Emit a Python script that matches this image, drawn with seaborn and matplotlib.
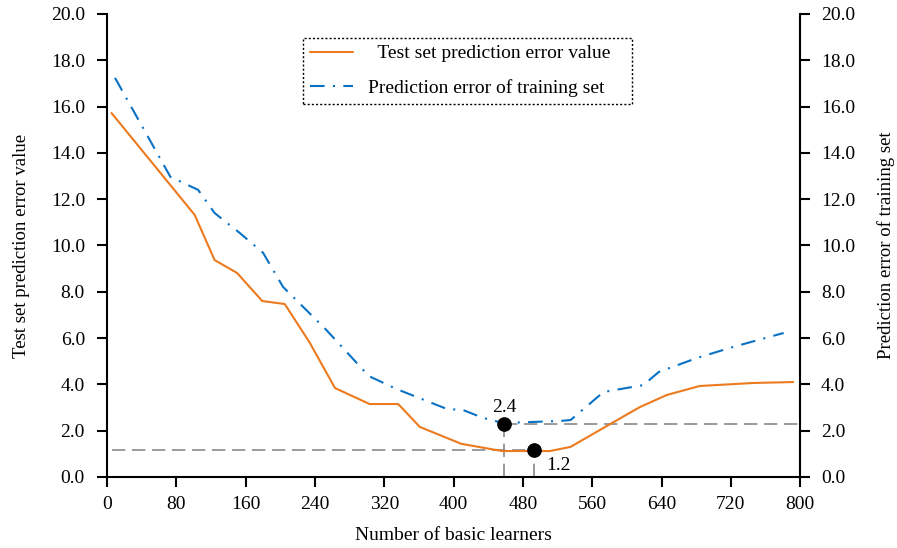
import numpy as np
import pandas as pd
import matplotlib
matplotlib.use("Agg")
import matplotlib.pyplot as plt
import seaborn as sns
from matplotlib.lines import Line2D

# ---------------- data ----------------
test_x = [5, 101, 124, 150, 179, 205, 234, 263, 303, 336, 361, 409, 456, 511, 535, 573, 615, 646, 684, 746, 792]
test_y = [15.72, 11.32, 9.37, 8.81, 7.60, 7.47, 5.79, 3.84, 3.15, 3.15, 2.16, 1.43, 1.12, 1.12, 1.30, 2.12, 3.02, 3.54, 3.93, 4.06, 4.10]

train_x = [9, 73, 105, 124, 153, 180, 203, 253, 302, 334, 392, 411, 434, 457, 523, 535, 573, 619, 637, 681, 723, 781]
train_y = [17.24, 12.96, 12.40, 11.40, 10.54, 9.68, 8.21, 6.35, 4.36, 3.80, 2.94, 2.89, 2.55, 2.33, 2.42, 2.46, 3.67, 3.97, 4.54, 5.14, 5.62, 6.22]

mark_x = [458, 493]
mark_y = [2.29, 1.17]
mark_labels = ["2.4", "1.2"]

x_ticks = [0, 80, 160, 240, 320, 400, 480, 560, 640, 720, 800]
y_ticks = [0, 2, 4, 6, 8, 10, 12, 14, 16, 18, 20]

label_test = "Test set prediction error value"
label_train = "Prediction error of training set"
x_label = "Number of basic learners"

ORANGE = "#EC7A1E"
BLUE = "#0A72C4"
GREY = "#8A8A8A"
FS = 14

# ---------------- style ----------------
sns.set_theme(style="ticks")
plt.rcParams["font.family"] = ["Liberation Serif", "DejaVu Serif"]
plt.rcParams["font.size"] = FS
plt.rcParams["axes.linewidth"] = 1.5
for k in ("text.color", "axes.labelcolor", "xtick.color", "ytick.color", "axes.edgecolor"):
    plt.rcParams[k] = "black"

fig = plt.figure(figsize=(8.97, 5.48), dpi=100)
ax = fig.add_axes([0.1195, 0.1296, 0.7725, 0.845])
ax2 = ax.twinx()

df_test = pd.DataFrame({"x": test_x, "y": test_y})
df_train = pd.DataFrame({"x": train_x, "y": train_y})

sns.lineplot(data=df_test, x="x", y="y", ax=ax, color=ORANGE, lw=1.5, sort=False)
sns.lineplot(data=df_train, x="x", y="y", ax=ax2, color=BLUE, lw=1.5, sort=False,
             dashes=False)
ax2.lines[0].set_dashes((7, 4, 1, 4))

# reference dashed guide lines
x0 = test_x[0]
ax.plot([x0, mark_x[1]], [mark_y[1], mark_y[1]], color=GREY, lw=1.2, dashes=(8, 4), zorder=1)
ax.plot([mark_x[1], mark_x[1]], [0, mark_y[1]], color=GREY, lw=1.2, dashes=(8, 4), zorder=1)
ax.plot([mark_x[0], 800], [mark_y[0], mark_y[0]], color=GREY, lw=1.2, dashes=(8, 4), zorder=1)
ax.plot([mark_x[0], mark_x[0]], [0, mark_y[0]], color=GREY, lw=1.2, dashes=(8, 4), zorder=1)

sns.scatterplot(x=mark_x, y=mark_y, ax=ax2, color="black", s=95, edgecolor="black", zorder=5)
ax2.annotate(mark_labels[0], (mark_x[0], mark_y[0]), xytext=(0, 6), textcoords="offset points",
             ha="center", va="bottom", fontsize=FS)
ax2.annotate(mark_labels[1], (mark_x[1], mark_y[1]), xytext=(9, -5), textcoords="offset points",
             ha="left", va="top", fontsize=FS)

for a in (ax, ax2):
    a.set_xlim(0, 800)
    a.set_ylim(0, 20)
    a.set_yticks(y_ticks)
    a.set_yticklabels([f"{v:.1f}" for v in y_ticks])
    a.spines["top"].set_visible(False)
    a.tick_params(axis="both", direction="out", length=7, width=1.5, labelsize=FS, color="black")

ax.set_xticks(x_ticks)
ax.set_xticklabels([str(v) for v in x_ticks])
ax.tick_params(axis="y", pad=9)
ax.tick_params(axis="x", pad=7)
ax2.tick_params(axis="y", pad=8)
ax.spines["right"].set_visible(False)
ax2.spines["right"].set_visible(True)
ax2.spines["left"].set_visible(False)
ax2.spines["bottom"].set_visible(False)

ax.set_xlabel(x_label, fontsize=FS, labelpad=10)
ax.set_ylabel(label_test, fontsize=13.5, labelpad=15)
ax2.set_ylabel(label_train, fontsize=13.5, labelpad=16)

handles = [Line2D([0], [0], color=ORANGE, lw=1.5),
           Line2D([0], [0], color=BLUE, lw=1.5, dashes=(7, 4, 1, 4))]
leg = ax2.legend(handles, ["  " + label_test + "   ", label_train], loc="upper left",
                 bbox_to_anchor=(0.283, 0.948), borderaxespad=0, fontsize=FS,
                 frameon=True, fancybox=False, handlelength=2.2, handletextpad=0.8,
                 borderpad=0.35, labelspacing=0.85)
fr = leg.get_frame()
fr.set_edgecolor("black")
fr.set_linestyle((0, (1.5, 1.5)))
fr.set_linewidth(1.0)
fr.set_facecolor("white")
fr.set_alpha(1)

fig.savefig("out.png", dpi=100)
